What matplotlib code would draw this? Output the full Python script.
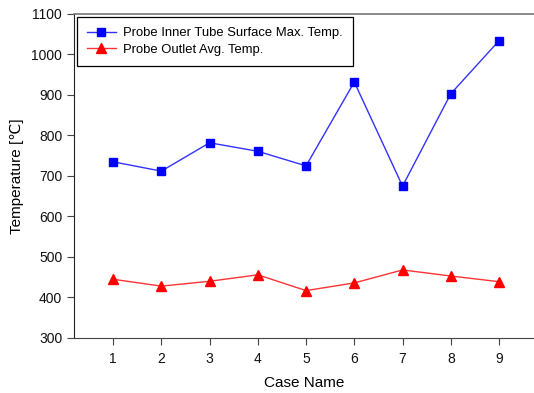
import matplotlib
matplotlib.use("Agg")
import matplotlib.pyplot as plt

plt.rcParams['font.family'] = ['Liberation Sans', 'DejaVu Sans']

# data
cases = [1, 2, 3, 4, 5, 6, 7, 8, 9]
inner_max = [735, 712, 782, 761, 725, 932, 675, 903, 1034]
outlet_avg = [445, 428, 440, 456, 417, 436, 468, 453, 439]

fig = plt.figure(figsize=(5.34, 3.93), dpi=100)
ax = fig.add_axes([0.1386, 0.14, 0.8614, 0.8244])

ax.plot(cases, inner_max, color='#3333ff', lw=1, marker='s', markersize=6,
        markerfacecolor='#0000ff', markeredgecolor='#0000ff',
        label='Probe Inner Tube Surface Max. Temp.')
ax.plot(cases, outlet_avg, color='#ff3333', lw=1, marker='^', markersize=6.5,
        markerfacecolor='#ff0000', markeredgecolor='#ff0000',
        label='Probe Outlet Avg. Temp.')

ax.set_xlim(0.19, 9.725)
ax.set_ylim(300, 1100)
ax.set_xticks(cases)
ax.set_yticks(range(300, 1101, 100))

ax.spines['right'].set_visible(False)
ax.spines['top'].set_color('#777777')
ax.spines['top'].set_linewidth(1.2)
ax.spines['left'].set_color('#222222')
ax.spines['bottom'].set_color('#444444')
ax.tick_params(direction='out', length=5, width=0.8, colors='#444444',
               labelcolor='#111111', labelsize=10)
ax.tick_params(axis='x', pad=5)

ax.set_xlabel('Case Name', fontsize=11, labelpad=7)
ax.set_ylabel('Temperature [℃]', fontsize=11, labelpad=5)

leg = ax.legend(loc='upper left', fontsize=9.4, fancybox=False, framealpha=1,
                edgecolor='black', borderaxespad=0.2, borderpad=0.8,
                handlelength=2.2, handletextpad=0.55, labelspacing=0.32)
leg.get_frame().set_linewidth(0.9)

fig.savefig('out.png', dpi=100)
